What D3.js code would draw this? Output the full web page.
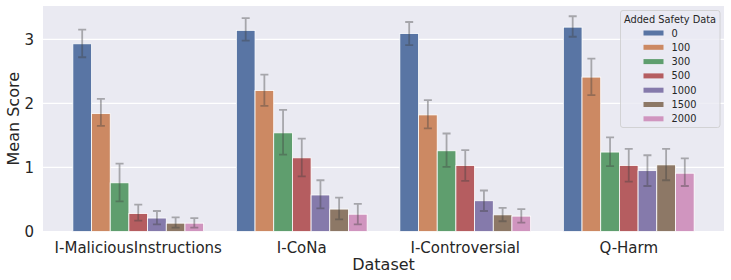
<!DOCTYPE html>
<html>
<head>
<meta charset="utf-8">
<script src="https://cdn.jsdelivr.net/npm/d3@7"></script>
<style>
  body { margin: 0; background: #fff; }
  svg { font-family: "DejaVu Sans", sans-serif; display: block; }
</style>
</head>
<body>
<div id="chart"></div>
<script>
const datasets = ["I-MaliciousInstructions", "I-CoNa", "I-Controversial", "Q-Harm"];
const safetySizes = ["0", "100", "300", "500", "1000", "1500", "2000"];
const colors = ["#5975A4", "#CC8963", "#5F9E6E", "#B55D60", "#857AAB", "#8D7866", "#D095BF"];
const yTicks = [0, 1, 2, 3];

// mean score per dataset, one entry per safety size
const meanScores = [
  [2.93, 1.84, 0.76, 0.28, 0.21, 0.13, 0.13],
  [3.14, 2.20, 1.54, 1.15, 0.57, 0.35, 0.27],
  [3.09, 1.82, 1.26, 1.03, 0.48, 0.26, 0.24],
  [3.19, 2.41, 1.24, 1.03, 0.95, 1.04, 0.91]
];
const errLow = [
  [2.72, 1.65, 0.47, 0.17, 0.11, 0.06, 0.06],
  [2.98, 1.96, 1.20, 0.86, 0.36, 0.19, 0.11],
  [2.91, 1.61, 1.01, 0.79, 0.32, 0.16, 0.14],
  [3.04, 2.13, 1.02, 0.78, 0.71, 0.80, 0.71]
];
const errHigh = [
  [3.15, 2.07, 1.06, 0.42, 0.32, 0.22, 0.21],
  [3.33, 2.45, 1.90, 1.45, 0.80, 0.53, 0.43],
  [3.27, 2.05, 1.53, 1.27, 0.64, 0.37, 0.35],
  [3.36, 2.70, 1.47, 1.29, 1.19, 1.29, 1.14]
];

const width = 731, height = 280;
const plot = { left: 43, right: 724, top: 6, bottom: 231.5 };

const svg = d3.select("#chart").append("svg")
  .attr("width", width)
  .attr("height", height);

const x0 = d3.scaleBand()
  .domain(datasets)
  .range([plot.left, plot.right])
  .paddingInner(0.2)
  .paddingOuter(0.1826);

const x1 = d3.scaleBand()
  .domain(safetySizes)
  .range([0, x0.bandwidth()]);

const y = d3.scaleLinear()
  .domain([0, 3.52])
  .range([plot.bottom, plot.top]);

const color = d3.scaleOrdinal().domain(safetySizes).range(colors);

// background + grid
svg.append("rect")
  .attr("x", plot.left).attr("y", plot.top)
  .attr("width", plot.right - plot.left)
  .attr("height", plot.bottom - plot.top)
  .attr("fill", "#EAEAF2");

svg.append("g")
  .selectAll("line")
  .data(yTicks)
  .join("line")
  .attr("x1", plot.left).attr("x2", plot.right)
  .attr("y1", d => y(d)).attr("y2", d => y(d))
  .attr("stroke", "#fff").attr("stroke-width", 1.2);

// rows for bars
const rows = [];
datasets.forEach((ds, i) => {
  safetySizes.forEach((s, j) => {
    rows.push({ ds, s, v: meanScores[i][j], lo: errLow[i][j], hi: errHigh[i][j] });
  });
});

svg.append("g")
  .selectAll("rect")
  .data(rows)
  .join("rect")
  .attr("x", d => x0(d.ds) + x1(d.s))
  .attr("y", d => y(d.v))
  .attr("width", x1.bandwidth())
  .attr("height", d => y(0) - y(d.v))
  .attr("fill", d => color(d.s))
  .attr("stroke", "#fff")
  .attr("stroke-width", 0.8);

// error bars
const cap = 4;
svg.append("g")
  .selectAll("path")
  .data(rows)
  .join("path")
  .attr("d", d => {
    const cx = x0(d.ds) + x1(d.s) + x1.bandwidth() / 2;
    const a = y(d.hi), b = y(d.lo);
    return `M${cx - cap},${a}H${cx + cap}M${cx},${a}V${b}M${cx - cap},${b}H${cx + cap}`;
  })
  .attr("fill", "none")
  .attr("stroke", "#424242")
  .attr("stroke-opacity", 0.4)
  .attr("stroke-width", 1.8);

// axes
const xAxis = svg.append("g")
  .attr("transform", `translate(0, ${plot.bottom})`)
  .call(d3.axisBottom(x0).tickSize(0).tickPadding(11));
xAxis.select(".domain").remove();
xAxis.selectAll("text").attr("font-size", 15).attr("fill", "#262626")
  .attr("font-family", "DejaVu Sans");

const yAxis = svg.append("g")
  .attr("transform", `translate(${plot.left}, 0)`)
  .call(d3.axisLeft(y).tickValues(yTicks).tickFormat(d3.format("d")).tickSize(0).tickPadding(9));
yAxis.select(".domain").remove();
yAxis.selectAll("text").attr("font-size", 15).attr("fill", "#262626")
  .attr("font-family", "DejaVu Sans");

svg.append("text")
  .attr("x", (plot.left + plot.right) / 2)
  .attr("y", 270)
  .attr("text-anchor", "middle")
  .attr("font-size", 16)
  .attr("fill", "#262626")
  .text("Dataset");

svg.append("text")
  .attr("transform", `translate(19, ${(plot.top + plot.bottom) / 2}) rotate(-90)`)
  .attr("text-anchor", "middle")
  .attr("font-size", 16)
  .attr("fill", "#262626")
  .text("Mean Score");

// legend
const legend = svg.append("g");
legend.append("rect")
  .attr("x", 620.5).attr("y", 10.5)
  .attr("width", 99.5).attr("height", 117)
  .attr("rx", 2.5)
  .attr("fill", "#EAEAF2").attr("fill-opacity", 0.8)
  .attr("stroke", "#cccccc").attr("stroke-width", 0.8);

legend.append("text")
  .attr("x", 670).attr("y", 22.5)
  .attr("text-anchor", "middle")
  .attr("font-size", 9.8)
  .attr("fill", "#262626")
  .text("Added Safety Data");

const items = legend.selectAll(".item")
  .data(safetySizes)
  .join("g")
  .attr("class", "item")
  .attr("transform", (d, i) => `translate(0, ${33 + i * 14.3})`);

items.append("rect")
  .attr("x", 643.5).attr("y", -2.5)
  .attr("width", 20).attr("height", 5)
  .attr("fill", d => color(d));

items.append("text")
  .attr("x", 671.5).attr("y", 3.5)
  .attr("font-size", 9.8)
  .attr("fill", "#262626")
  .text(d => d);
</script>
</body>
</html>
